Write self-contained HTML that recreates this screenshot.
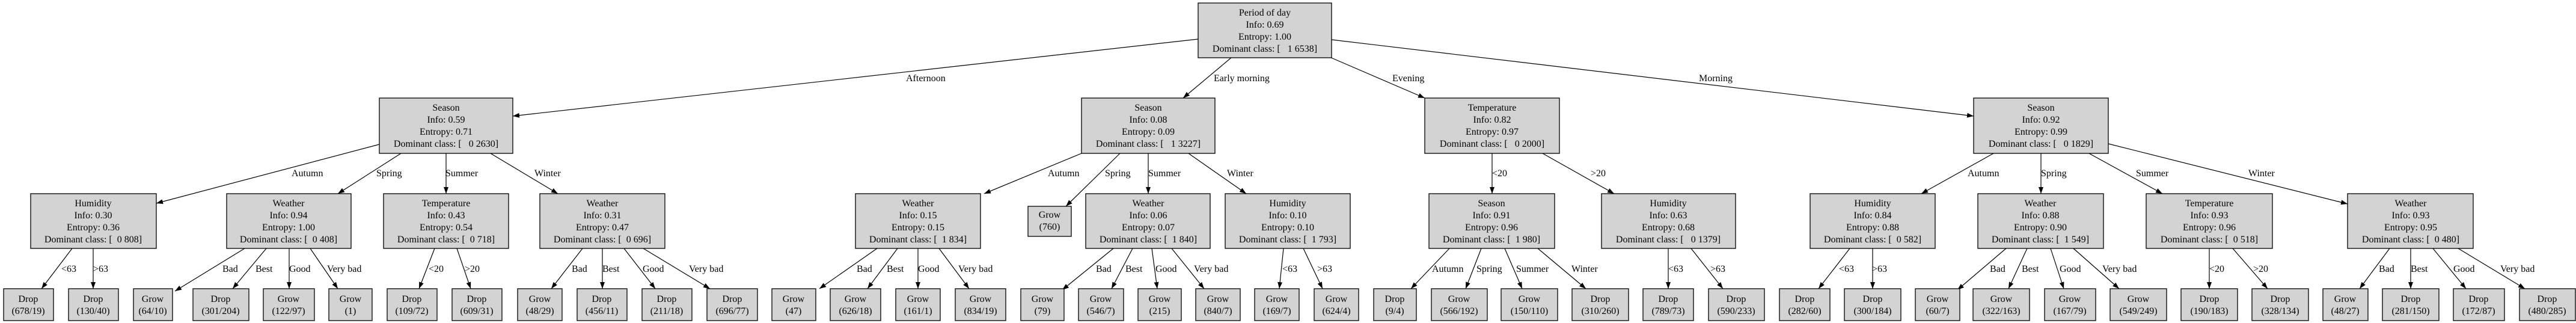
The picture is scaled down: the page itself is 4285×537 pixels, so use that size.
<!DOCTYPE html>
<html><head><meta charset="utf-8"><style>
html,body{margin:0;padding:0;background:#fff;}
svg{display:block}
text{font-family:"Liberation Serif","Times New Roman",serif;font-size:16px;white-space:pre;}
.n{fill:#d3d3d3;stroke:#000;stroke-width:1.3}
.e{stroke:#000;stroke-width:1.2;fill:none;marker-end:url(#a)}
.c{text-anchor:middle}
</style></head><body>
<svg width="4285" height="537" viewBox="0 0 4285 537" xmlns="http://www.w3.org/2000/svg">
<defs><marker id="a" markerUnits="userSpaceOnUse" markerWidth="12" markerHeight="10" refX="11" refY="4" orient="auto"><path d="M0,0 L11,4 L0,8 z" fill="#000"/></marker></defs>

<!-- edges -->
<g>
<line class="e" x1="1993" y1="65" x2="853" y2="193"/>
<line class="e" x1="2048" y1="96" x2="1968" y2="163"/>
<line class="e" x1="2212" y1="95" x2="2370" y2="163"/>
<line class="e" x1="2215" y1="66" x2="3283" y2="193"/>

<line class="e" x1="631" y1="240" x2="260" y2="338"/>
<line class="e" x1="667" y1="255" x2="562" y2="322"/>
<line class="e" x1="742" y1="255" x2="742" y2="322"/>
<line class="e" x1="816" y1="255" x2="928" y2="322"/>

<line class="e" x1="1799" y1="255" x2="1637" y2="322"/>
<line class="e" x1="1863" y1="255" x2="1773" y2="343"/>
<line class="e" x1="1910" y1="255" x2="1910" y2="322"/>
<line class="e" x1="1977" y1="255" x2="2073" y2="322"/>

<line class="e" x1="2482" y1="255" x2="2482" y2="322"/>
<line class="e" x1="2566" y1="255" x2="2685" y2="322"/>

<line class="e" x1="3316" y1="255" x2="3196" y2="322"/>
<line class="e" x1="3395" y1="255" x2="3395" y2="322"/>
<line class="e" x1="3475" y1="255" x2="3597" y2="322"/>
<line class="e" x1="3507" y1="239" x2="3905" y2="339"/>

<line class="e" x1="120" y1="413" x2="69" y2="480"/>
<line class="e" x1="155" y1="413" x2="155" y2="480"/>
<line class="e" x1="407" y1="413" x2="291" y2="484"/>
<line class="e" x1="443" y1="413" x2="387" y2="480"/>
<line class="e" x1="481" y1="413" x2="481" y2="480"/>
<line class="e" x1="516" y1="413" x2="562" y2="480"/>
<line class="e" x1="723" y1="413" x2="697" y2="480"/>
<line class="e" x1="760" y1="413" x2="783" y2="480"/>
<line class="e" x1="969" y1="413" x2="917" y2="480"/>
<line class="e" x1="1002" y1="413" x2="1002" y2="480"/>
<line class="e" x1="1038" y1="413" x2="1090" y2="480"/>
<line class="e" x1="1070" y1="413" x2="1181" y2="480"/>
<line class="e" x1="1459" y1="413" x2="1363" y2="480"/>
<line class="e" x1="1493" y1="413" x2="1443" y2="480"/>
<line class="e" x1="1527" y1="413" x2="1527" y2="480"/>
<line class="e" x1="1562" y1="413" x2="1612" y2="480"/>
<line class="e" x1="1852" y1="413" x2="1767" y2="482"/>
<line class="e" x1="1884" y1="413" x2="1849" y2="480"/>
<line class="e" x1="1916" y1="413" x2="1925" y2="480"/>
<line class="e" x1="1949" y1="413" x2="2003" y2="480"/>
<line class="e" x1="2135" y1="413" x2="2128" y2="480"/>
<line class="e" x1="2168" y1="413" x2="2200" y2="480"/>
<line class="e" x1="2411" y1="413" x2="2347" y2="480"/>
<line class="e" x1="2464" y1="413" x2="2438" y2="480"/>
<line class="e" x1="2503" y1="413" x2="2532" y2="480"/>
<line class="e" x1="2558" y1="413" x2="2638" y2="480"/>
<line class="e" x1="2775" y1="413" x2="2775" y2="480"/>
<line class="e" x1="2813" y1="413" x2="2866" y2="480"/>
<line class="e" x1="3077" y1="413" x2="3025" y2="480"/>
<line class="e" x1="3115" y1="413" x2="3115" y2="480"/>
<line class="e" x1="3337" y1="413" x2="3256" y2="482"/>
<line class="e" x1="3372" y1="413" x2="3341" y2="480"/>
<line class="e" x1="3411" y1="413" x2="3433" y2="480"/>
<line class="e" x1="3449" y1="413" x2="3525" y2="480"/>
<line class="e" x1="3675" y1="413" x2="3675" y2="480"/>
<line class="e" x1="3714" y1="413" x2="3772" y2="480"/>
<line class="e" x1="3975" y1="413" x2="3925" y2="480"/>
<line class="e" x1="4010" y1="413" x2="4010" y2="480"/>
<line class="e" x1="4047" y1="413" x2="4102" y2="480"/>
<line class="e" x1="4089" y1="413" x2="4200" y2="480"/>
</g>

<!-- edge labels -->
<g>
<text x="1507" y="135">Afternoon</text>
<text x="2019" y="135">Early morning</text>
<text x="2316" y="135">Evening</text>
<text x="2826" y="135">Morning</text>

<text x="485" y="293">Autumn</text><text x="626" y="293">Spring</text><text x="741" y="293">Summer</text><text x="889" y="293">Winter</text>
<text x="1743" y="293">Autumn</text><text x="1838" y="293">Spring</text><text x="1910" y="293">Summer</text><text x="2041" y="293">Winter</text>
<text x="2482" y="293">&lt;20</text><text x="2646" y="293">&gt;20</text>
<text x="3273" y="293">Autumn</text><text x="3395" y="293">Spring</text><text x="3553" y="293">Summer</text><text x="3740" y="293">Winter</text>

<text x="102" y="452">&lt;63</text><text x="155" y="452">&gt;63</text>
<text x="370" y="452">Bad</text><text x="425" y="452">Best</text><text x="481" y="452">Good</text><text x="544" y="452">Very bad</text>
<text x="713" y="452">&lt;20</text><text x="773" y="452">&gt;20</text>
<text x="951" y="452">Bad</text><text x="1002" y="452">Best</text><text x="1069" y="452">Good</text><text x="1146" y="452">Very bad</text>
<text x="1425" y="452">Bad</text><text x="1475" y="452">Best</text><text x="1527" y="452">Good</text><text x="1594" y="452">Very bad</text>
<text x="1823" y="452">Bad</text><text x="1872" y="452">Best</text><text x="1922" y="452">Good</text><text x="1986" y="452">Very bad</text>
<text x="2133" y="452">&lt;63</text><text x="2191" y="452">&gt;63</text>
<text x="2382" y="452">Autumn</text><text x="2456" y="452">Spring</text><text x="2522" y="452">Summer</text><text x="2614" y="452">Winter</text>
<text x="2775" y="452">&lt;63</text><text x="2845" y="452">&gt;63</text>
<text x="3059" y="452">&lt;63</text><text x="3114" y="452">&gt;63</text>
<text x="3310" y="452">Bad</text><text x="3363" y="452">Best</text><text x="3426" y="452">Good</text><text x="3497" y="452">Very bad</text>
<text x="3675" y="452">&lt;20</text><text x="3748" y="452">&gt;20</text>
<text x="3957" y="452">Bad</text><text x="4010" y="452">Best</text><text x="4081" y="452">Good</text><text x="4159" y="452">Very bad</text>
</g>

<!-- root -->
<rect class="n" x="1993" y="5" width="222" height="91"/>
<text class="c" x="2104" y="26">Period of day</text><text class="c" x="2104" y="46">Info: 0.69</text><text class="c" x="2104" y="66">Entropy: 1.00</text><text class="c" x="2104" y="86">Dominant class: [   1 6538]</text>

<!-- level 1 -->
<rect class="n" x="631" y="163" width="222" height="92"/>
<text class="c" x="742" y="184">Season</text><text class="c" x="742" y="204">Info: 0.59</text><text class="c" x="742" y="224">Entropy: 0.71</text><text class="c" x="742" y="244">Dominant class: [   0 2630]</text>
<rect class="n" x="1799" y="163" width="222" height="92"/>
<text class="c" x="1910" y="184">Season</text><text class="c" x="1910" y="204">Info: 0.08</text><text class="c" x="1910" y="224">Entropy: 0.09</text><text class="c" x="1910" y="244">Dominant class: [   1 3227]</text>
<rect class="n" x="2370" y="163" width="224" height="92"/>
<text class="c" x="2482" y="184">Temperature</text><text class="c" x="2482" y="204">Info: 0.82</text><text class="c" x="2482" y="224">Entropy: 0.97</text><text class="c" x="2482" y="244">Dominant class: [   0 2000]</text>
<rect class="n" x="3283" y="163" width="224" height="92"/>
<text class="c" x="3395" y="184">Season</text><text class="c" x="3395" y="204">Info: 0.92</text><text class="c" x="3395" y="224">Entropy: 0.99</text><text class="c" x="3395" y="244">Dominant class: [   0 1829]</text>

<!-- level 2 -->
<rect class="n" x="51" y="322" width="209" height="91"/>
<text class="c" x="155" y="343">Humidity</text><text class="c" x="155" y="363">Info: 0.30</text><text class="c" x="155" y="383">Entropy: 0.36</text><text class="c" x="155" y="403">Dominant class: [  0 808]</text>
<rect class="n" x="377" y="322" width="207" height="91"/>
<text class="c" x="480" y="343">Weather</text><text class="c" x="480" y="363">Info: 0.94</text><text class="c" x="480" y="383">Entropy: 1.00</text><text class="c" x="480" y="403">Dominant class: [  0 408]</text>
<rect class="n" x="638" y="322" width="208" height="91"/>
<text class="c" x="742" y="343">Temperature</text><text class="c" x="742" y="363">Info: 0.43</text><text class="c" x="742" y="383">Entropy: 0.54</text><text class="c" x="742" y="403">Dominant class: [  0 718]</text>
<rect class="n" x="898" y="322" width="208" height="91"/>
<text class="c" x="1002" y="343">Weather</text><text class="c" x="1002" y="363">Info: 0.31</text><text class="c" x="1002" y="383">Entropy: 0.47</text><text class="c" x="1002" y="403">Dominant class: [  0 696]</text>
<rect class="n" x="1423" y="322" width="208" height="91"/>
<text class="c" x="1527" y="343">Weather</text><text class="c" x="1527" y="363">Info: 0.15</text><text class="c" x="1527" y="383">Entropy: 0.15</text><text class="c" x="1527" y="403">Dominant class: [  1 834]</text>
<rect class="n" x="1710" y="343" width="72" height="50"/>
<text class="c" x="1746" y="362">Grow</text><text class="c" x="1746" y="382">(760)</text>
<rect class="n" x="1806" y="322" width="207" height="91"/>
<text class="c" x="1910" y="343">Weather</text><text class="c" x="1910" y="363">Info: 0.06</text><text class="c" x="1910" y="383">Entropy: 0.07</text><text class="c" x="1910" y="403">Dominant class: [  1 840]</text>
<rect class="n" x="2038" y="322" width="208" height="91"/>
<text class="c" x="2142" y="343">Humidity</text><text class="c" x="2142" y="363">Info: 0.10</text><text class="c" x="2142" y="383">Entropy: 0.10</text><text class="c" x="2142" y="403">Dominant class: [  1 793]</text>
<rect class="n" x="2377" y="322" width="209" height="91"/>
<text class="c" x="2481" y="343">Season</text><text class="c" x="2481" y="363">Info: 0.91</text><text class="c" x="2481" y="383">Entropy: 0.96</text><text class="c" x="2481" y="403">Dominant class: [  1 980]</text>
<rect class="n" x="2664" y="322" width="223" height="91"/>
<text class="c" x="2775" y="343">Humidity</text><text class="c" x="2775" y="363">Info: 0.63</text><text class="c" x="2775" y="383">Entropy: 0.68</text><text class="c" x="2775" y="403">Dominant class: [   0 1379]</text>
<rect class="n" x="3011" y="322" width="208" height="91"/>
<text class="c" x="3115" y="343">Humidity</text><text class="c" x="3115" y="363">Info: 0.84</text><text class="c" x="3115" y="383">Entropy: 0.88</text><text class="c" x="3115" y="403">Dominant class: [  0 582]</text>
<rect class="n" x="3290" y="322" width="209" height="91"/>
<text class="c" x="3394" y="343">Weather</text><text class="c" x="3394" y="363">Info: 0.88</text><text class="c" x="3394" y="383">Entropy: 0.90</text><text class="c" x="3394" y="403">Dominant class: [  1 549]</text>
<rect class="n" x="3570" y="322" width="210" height="91"/>
<text class="c" x="3675" y="343">Temperature</text><text class="c" x="3675" y="363">Info: 0.93</text><text class="c" x="3675" y="383">Entropy: 0.96</text><text class="c" x="3675" y="403">Dominant class: [  0 518]</text>
<rect class="n" x="3905" y="322" width="209" height="91"/>
<text class="c" x="4010" y="343">Weather</text><text class="c" x="4010" y="363">Info: 0.93</text><text class="c" x="4010" y="383">Entropy: 0.95</text><text class="c" x="4010" y="403">Dominant class: [  0 480]</text>

<!-- leaves -->
<g>
<rect class="n" x="6" y="480" width="83" height="53"/><text class="c" x="47" y="502">Drop</text><text class="c" x="47" y="522">(678/19)</text>
<rect class="n" x="114" y="480" width="83" height="53"/><text class="c" x="155" y="502">Drop</text><text class="c" x="155" y="522">(130/40)</text>
<rect class="n" x="222" y="480" width="65" height="53"/><text class="c" x="254" y="502">Grow</text><text class="c" x="254" y="522">(64/10)</text>
<rect class="n" x="321" y="480" width="93" height="53"/><text class="c" x="367" y="502">Drop</text><text class="c" x="367" y="522">(301/204)</text>
<rect class="n" x="438" y="480" width="85" height="53"/><text class="c" x="480" y="502">Grow</text><text class="c" x="480" y="522">(122/97)</text>
<rect class="n" x="547" y="480" width="72" height="53"/><text class="c" x="583" y="502">Grow</text><text class="c" x="583" y="522">(1)</text>
<rect class="n" x="644" y="480" width="83" height="53"/><text class="c" x="685" y="502">Drop</text><text class="c" x="685" y="522">(109/72)</text>
<rect class="n" x="752" y="480" width="83" height="53"/><text class="c" x="793" y="502">Drop</text><text class="c" x="793" y="522">(609/31)</text>
<rect class="n" x="861" y="480" width="74" height="53"/><text class="c" x="898" y="502">Grow</text><text class="c" x="898" y="522">(48/29)</text>
<rect class="n" x="960" y="480" width="83" height="53"/><text class="c" x="1001" y="502">Drop</text><text class="c" x="1001" y="522">(456/11)</text>
<rect class="n" x="1068" y="480" width="83" height="53"/><text class="c" x="1109" y="502">Drop</text><text class="c" x="1109" y="522">(211/18)</text>
<rect class="n" x="1176" y="480" width="84" height="53"/><text class="c" x="1218" y="502">Drop</text><text class="c" x="1218" y="522">(696/77)</text>
<rect class="n" x="1284" y="480" width="73" height="53"/><text class="c" x="1320" y="502">Grow</text><text class="c" x="1320" y="522">(47)</text>
<rect class="n" x="1381" y="480" width="84" height="53"/><text class="c" x="1423" y="502">Grow</text><text class="c" x="1423" y="522">(626/18)</text>
<rect class="n" x="1490" y="480" width="74" height="53"/><text class="c" x="1527" y="502">Grow</text><text class="c" x="1527" y="522">(161/1)</text>
<rect class="n" x="1589" y="480" width="84" height="53"/><text class="c" x="1631" y="502">Grow</text><text class="c" x="1631" y="522">(834/19)</text>
<rect class="n" x="1698" y="480" width="72" height="53"/><text class="c" x="1734" y="502">Grow</text><text class="c" x="1734" y="522">(79)</text>
<rect class="n" x="1794" y="480" width="75" height="53"/><text class="c" x="1831" y="502">Grow</text><text class="c" x="1831" y="522">(546/7)</text>
<rect class="n" x="1893" y="480" width="72" height="53"/><text class="c" x="1929" y="502">Grow</text><text class="c" x="1929" y="522">(215)</text>
<rect class="n" x="1989" y="480" width="74" height="53"/><text class="c" x="2026" y="502">Grow</text><text class="c" x="2026" y="522">(840/7)</text>
<rect class="n" x="2087" y="480" width="74" height="53"/><text class="c" x="2124" y="502">Grow</text><text class="c" x="2124" y="522">(169/7)</text>
<rect class="n" x="2186" y="480" width="74" height="53"/><text class="c" x="2223" y="502">Grow</text><text class="c" x="2223" y="522">(624/4)</text>
<rect class="n" x="2285" y="480" width="71" height="53"/><text class="c" x="2320" y="502">Drop</text><text class="c" x="2320" y="522">(9/4)</text>
<rect class="n" x="2381" y="480" width="93" height="53"/><text class="c" x="2427" y="502">Grow</text><text class="c" x="2427" y="522">(566/192)</text>
<rect class="n" x="2497" y="480" width="94" height="53"/><text class="c" x="2544" y="502">Grow</text><text class="c" x="2544" y="522">(150/110)</text>
<rect class="n" x="2615" y="480" width="94" height="53"/><text class="c" x="2662" y="502">Drop</text><text class="c" x="2662" y="522">(310/260)</text>
<rect class="n" x="2733" y="480" width="84" height="53"/><text class="c" x="2775" y="502">Drop</text><text class="c" x="2775" y="522">(789/73)</text>
<rect class="n" x="2842" y="480" width="93" height="53"/><text class="c" x="2888" y="502">Drop</text><text class="c" x="2888" y="522">(590/233)</text>
<rect class="n" x="2960" y="480" width="84" height="53"/><text class="c" x="3002" y="502">Drop</text><text class="c" x="3002" y="522">(282/60)</text>
<rect class="n" x="3068" y="480" width="94" height="53"/><text class="c" x="3115" y="502">Drop</text><text class="c" x="3115" y="522">(300/184)</text>
<rect class="n" x="3186" y="480" width="74" height="53"/><text class="c" x="3223" y="502">Grow</text><text class="c" x="3223" y="522">(60/7)</text>
<rect class="n" x="3282" y="480" width="94" height="53"/><text class="c" x="3329" y="502">Grow</text><text class="c" x="3329" y="522">(322/163)</text>
<rect class="n" x="3401" y="480" width="85" height="53"/><text class="c" x="3443" y="502">Grow</text><text class="c" x="3443" y="522">(167/79)</text>
<rect class="n" x="3510" y="480" width="94" height="53"/><text class="c" x="3557" y="502">Grow</text><text class="c" x="3557" y="522">(549/249)</text>
<rect class="n" x="3628" y="480" width="94" height="53"/><text class="c" x="3675" y="502">Drop</text><text class="c" x="3675" y="522">(190/183)</text>
<rect class="n" x="3746" y="480" width="94" height="53"/><text class="c" x="3793" y="502">Drop</text><text class="c" x="3793" y="522">(328/134)</text>
<rect class="n" x="3864" y="480" width="75" height="53"/><text class="c" x="3901" y="502">Grow</text><text class="c" x="3901" y="522">(48/27)</text>
<rect class="n" x="3963" y="480" width="94" height="53"/><text class="c" x="4010" y="502">Drop</text><text class="c" x="4010" y="522">(281/150)</text>
<rect class="n" x="4081" y="480" width="85" height="53"/><text class="c" x="4123" y="502">Drop</text><text class="c" x="4123" y="522">(172/87)</text>
<rect class="n" x="4191" y="480" width="93" height="53"/><text class="c" x="4237" y="502">Drop</text><text class="c" x="4237" y="522">(480/285)</text>
</g>
</svg>
</body></html>
